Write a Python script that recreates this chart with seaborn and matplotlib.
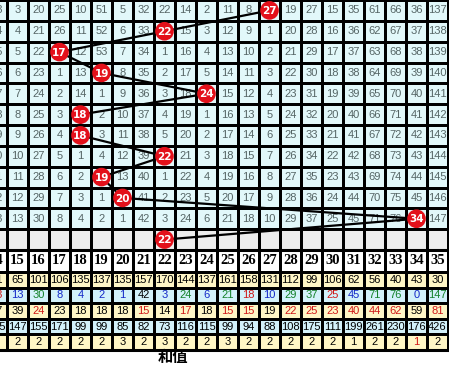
import numpy as np
import pandas as pd
import matplotlib
matplotlib.use("Agg")
import matplotlib.pyplot as plt
from matplotlib.colors import ListedColormap
import seaborn as sns

# sum values shown as columns (14 is cut off at the left edge)
sums = list(range(14, 36))

# drawn sum for each issue, top to bottom (last one sits in the grey row)
draws = [27, 22, 17, 19, 24, 18, 18, 22, 19, 20, 34, 22]

# omission grid, 0 = hit (drawn as a ball)
miss_rows = [
    [63, 3, 20, 25, 10, 51, 5, 32, 22, 14, 2, 11, 8, 0, 19, 27, 15, 35, 61, 66, 36, 137],
    [64, 4, 21, 26, 11, 52, 6, 33, 0, 15, 3, 12, 9, 1, 20, 28, 16, 36, 62, 67, 37, 138],
    [65, 5, 22, 0, 12, 53, 7, 34, 1, 16, 4, 13, 10, 2, 21, 29, 17, 37, 63, 68, 38, 139],
    [66, 6, 23, 1, 13, 0, 8, 35, 2, 17, 5, 14, 11, 3, 22, 30, 18, 38, 64, 69, 39, 140],
    [67, 7, 24, 2, 14, 1, 9, 36, 3, 18, 0, 15, 12, 4, 23, 31, 19, 39, 65, 70, 40, 141],
    [68, 8, 25, 3, 0, 2, 10, 37, 4, 19, 1, 16, 13, 5, 24, 32, 20, 40, 66, 71, 41, 142],
    [69, 9, 26, 4, 0, 3, 11, 38, 5, 20, 2, 17, 14, 6, 25, 33, 21, 41, 67, 72, 42, 143],
    [70, 10, 27, 5, 1, 4, 12, 39, 0, 21, 3, 18, 15, 7, 26, 34, 22, 42, 68, 73, 43, 144],
    [71, 11, 28, 6, 2, 0, 13, 40, 1, 22, 4, 19, 16, 8, 27, 35, 23, 43, 69, 74, 44, 145],
    [72, 12, 29, 7, 3, 1, 0, 41, 2, 23, 5, 20, 17, 9, 28, 36, 24, 44, 70, 75, 45, 146],
    [73, 13, 30, 8, 4, 2, 1, 42, 3, 24, 6, 21, 18, 10, 29, 37, 25, 45, 71, 76, 0, 147],
]

# statistics rows under the header
hit_count = [81, 65, 101, 106, 135, 137, 135, 157, 170, 144, 137, 161, 158, 131, 112, 99, 106, 62, 56, 40, 43, 30]
cur_miss = [73, 13, 30, 8, 4, 2, 1, 42, 3, 24, 6, 21, 18, 10, 29, 37, 25, 45, 71, 76, 0, 147]
avg_miss = [77, 39, 24, 23, 18, 18, 18, 15, 14, 17, 18, 15, 15, 19, 22, 25, 23, 40, 44, 62, 59, 81]
max_miss = [145, 147, 155, 171, 99, 99, 85, 82, 73, 116, 115, 99, 94, 88, 108, 175, 111, 199, 261, 230, 176, 426]
max_run = [2, 2, 2, 2, 2, 2, 3, 2, 3, 2, 2, 3, 2, 2, 2, 2, 2, 1, 2, 2, 1, 2]

W, H = 449, 368
ncol = len(sums)
x_lo = 1 - 7 / 21          # left edge of picture in cell units
x_hi = 1 + (W - 7) / 21

fig = plt.figure(figsize=(W / 100, H / 100), dpi=100)
fig.patch.set_facecolor("white")

def px_axes(top, bottom):
    return fig.add_axes([0, 1 - bottom / H, 1, (bottom - top) / H])

# ---- top omission grid ----
ax_top = px_axes(0, 250)
nrow = len(draws)
bg = np.zeros((nrow, ncol))
bg[-1, :] = 1
labels = [["" if v == 0 else str(v) for v in r] for r in miss_rows] + [[""] * ncol]
sns.heatmap(bg, ax=ax_top, cmap=ListedColormap(["#E2F8FA", "#EDEDED"]), vmin=0, vmax=1,
            cbar=False, linewidths=0.9, linecolor="black", xticklabels=False, yticklabels=False,
            annot=np.array(labels), fmt="", annot_kws={"fontsize": 8, "family": "Liberation Sans"})
for t in ax_top.texts:
    t.set_color("#556565")
ax_top.set_xlim(x_lo, x_hi)

ball_x = [sums.index(d) + 0.5 for d in draws]
ball_y = [i + 0.5 for i in range(nrow)]
sns.lineplot(x=ball_x, y=ball_y, sort=False, estimator=None, color="black", lw=1.6, ax=ax_top, zorder=3)
sns.scatterplot(x=ball_x, y=ball_y, s=180, color="#E3101A", edgecolor="none", ax=ax_top, zorder=4)
for bx, by, d in zip(ball_x, ball_y, draws):
    ax_top.text(bx, by + 0.03, str(d), color="white", fontsize=7.5, fontweight="bold",
                family="DejaVu Sans", ha="center", va="center", zorder=5)
ax_top.set_ylim(nrow, 0)

# ---- header row ----
ax_head = px_axes(250, 272)
sns.heatmap(np.zeros((1, ncol)), ax=ax_head, cmap=ListedColormap(["white"]), cbar=False,
            linewidths=0.9, linecolor="black", xticklabels=False, yticklabels=False,
            annot=np.array([[str(s) for s in sums]]), fmt="",
            annot_kws={"fontsize": 10.5, "fontweight": "bold", "family": "Liberation Serif", "color": "black"})
ax_head.set_xlim(x_lo, x_hi)
ax_head.axhline(0, color="black", lw=2.2, clip_on=False)
ax_head.axhline(1, color="black", lw=1.3, clip_on=False)

# ---- statistics rows ----
ax_stat = px_axes(272, 350)
stats = [hit_count, cur_miss, avg_miss, max_miss, max_run]
bg2 = np.array([[0], [1], [0], [1], [0]]) * np.ones((1, ncol))
sns.heatmap(bg2, ax=ax_stat, cmap=ListedColormap(["#FFF6C6", "#D3F1FA"]), vmin=0, vmax=1, cbar=False,
            linewidths=0.9, linecolor="black", xticklabels=False, yticklabels=False,
            annot=np.array([[str(v) for v in r] for r in stats]), fmt="",
            annot_kws={"fontsize": 8, "family": "Liberation Sans"})
ax_stat.set_xlim(x_lo, x_hi)
ax_stat.axhline(5, color="black", lw=2.2, clip_on=False)

# text colours of the statistics rows
pal = {"k": "black", "b": "#1428C8", "g": "#14822A", "r": "#D01818"}
cur_codes = list("rbgbbbbkbgbgrbggrbggbg")
colors = []
for j in range(ncol):
    colors.append("black")
for j in range(ncol):
    colors.append(pal[cur_codes[j]])
for j in range(ncol):
    colors.append(pal["r"] if cur_miss[j] > avg_miss[j] else "black")
for j in range(ncol):
    colors.append("black")
for j in range(ncol):
    colors.append(pal["r"] if cur_miss[j] == 0 else "black")
for t, c in zip(ax_stat.texts, colors):
    t.set_color(c)

fig.text(173 / W, 1 - 357 / H, "和值", ha="center", va="center", fontsize=11, fontweight="bold",
         family=["Noto Sans CJK SC", "DejaVu Sans"])

fig.savefig("out.png", dpi=100)
